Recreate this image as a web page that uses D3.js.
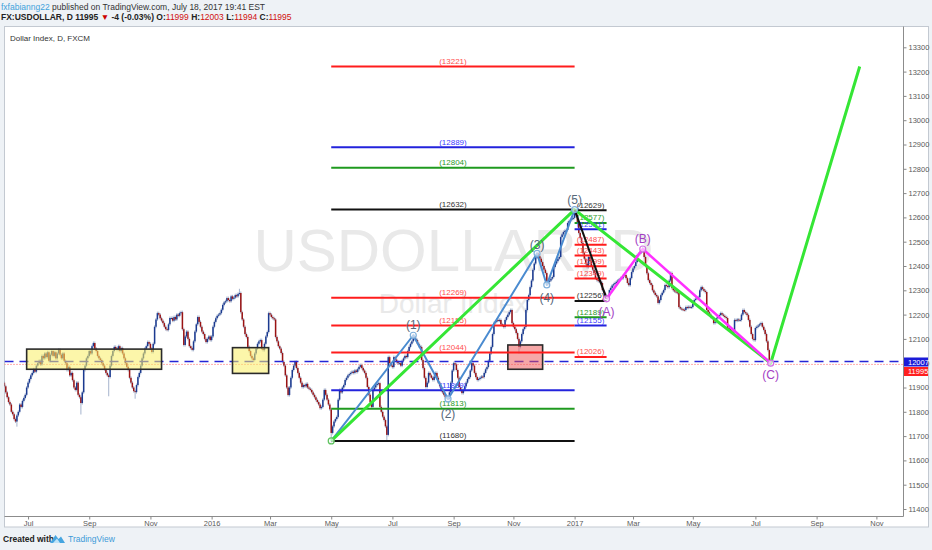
<!DOCTYPE html>
<html><head><meta charset="utf-8">
<script src="https://cdn.jsdelivr.net/npm/d3@7"></script>
<style>
html,body{margin:0;padding:0;background:#eef2f6;}
svg{display:block;font-family:"Liberation Sans",Arial,sans-serif;}
</style></head><body>
<svg id="chart" width="932" height="550"></svg>
<script>
// ---------------- DATA ----------------
const startDate = "2015-06-08";          // first bar (Monday); bars are consecutive weekdays
const firstOpen = 11920;
const closes = [
11905,11880,11860,11840,11830, 11800,11790,11770,11760,11785,
11800,11830,11820,11845,11857, 11870,11900,11920,11935,11950,
11960,11975,11965,11990,12000, 12010,11995,12030,12020,12040,
12025,12045,12010,12035,12050, 12030,12045,12020,12040,12055,
12035,12020,12040,12010,12000, 11972,11985,11950,11960,11930,
11900,11890,11920,11870,11860, 11836,11880,11972,11990,12020,
12030,12050,12040,12070,12083, 12060,12050,12030,12020,12013,
12000,11990,11975,11960,11950, 11943,11990,12030,12050,12067,
12060,12055,12070,12050,12062, 12040,12020,12000,11985,11972,
11940,11920,11900,11885,11881, 11910,11943,11960,11990,12020,
12040,12060,12070,12087,12080, 12060,12046,12080,12150,12180,
12206,12200,12185,12175,12165, 12150,12140,12137,12160,12186,
12186,12175,12190,12180,12200, 12195,12206,12210,12140,12075,
12110,12130,12100,12070,12062, 12055,12090,12130,12160,12190,
12170,12150,12130,12120,12100, 12087,12100,12110,12095,12110,
12150,12170,12185,12195,12200, 12206,12220,12240,12250,12255,
12268,12260,12255,12275,12265, 12270,12280,12275,12285,12289,
12210,12180,12150,12120,12108, 12067,12050,12030,12020,12013,
12040,12060,12080,12090,12095, 12060,12054,12080,12110,12128,
12206,12200,12190,12185,12180, 12108,12090,12070,12060,12042,
12005,11990,11950,11900,11869, 11900,11940,11972,11990,12005,
11980,11960,11940,11920,11902, 11910,11905,11915,11900,11895,
11890,11880,11870,11860,11849, 11840,11830,11815,11820,11850,
11890,11870,11850,11830,11810, 11713,11740,11760,11770,11779,
11850,11890,11880,11900,11910, 11931,11940,11950,11955,11960,
11965,11960,11970,11964,11975, 11985,11992,11980,11970,11960,
11940,11902,11870,11840,11820, 11890,11900,11910,11915,11918,
11820,11800,11780,11766,11740, 11705,12025,12000,11990,11984,
12025,12015,12005,12000,12000, 11990,12010,12020,12030,12025,
12050,12067,12080,12090,12112, 12100,12095,12080,12070,12067,
12013,11980,11940,11902,11920, 11960,11950,11940,11931,11945,
11960,11940,11920,11905,11890, 11880,11870,11860,11857,11853,
11880,11920,11970,12000,11995, 11972,11940,11902,11890,11877,
11890,11905,11920,11935,11943, 11970,12000,11990,11960,11943,
11931,11935,11940,11945,11943, 11960,11975,11984,12010,12040,
12067,12120,12165,12170,12178, 12175,12178,12160,12155,12149,
12178,12190,12200,12210,12219, 12165,12150,12140,12124,12100,
12067,12090,12120,12140,12149, 12219,12260,12280,12313,12340,
12384,12410,12435,12452,12440, 12430,12416,12400,12385,12371,
12325,12335,12340,12348,12355, 12396,12410,12420,12430,12437,
12519,12530,12540,12545,12548, 12577,12585,12590,12595,12598,
12622,12610,12577,12536,12515, 12495,12453,12430,12410,12396,
12437,12420,12400,12385,12371, 12350,12342,12338,12335,12330,
12301,12290,12280,12268,12275, 12301,12310,12320,12325,12330,
12335,12340,12345,12350,12350, 12360,12363,12350,12330,12321,
12350,12375,12390,12400,12416, 12445,12450,12455,12460,12470,
12437,12400,12370,12342,12330, 12322,12300,12290,12281,12275,
12248,12260,12280,12290,12301, 12322,12318,12313,12340,12371,
12309,12300,12295,12292,12289, 12231,12225,12222,12220,12219,
12231,12228,12232,12230,12231, 12245,12260,12265,12270,12272,
12300,12313,12305,12298,12293, 12219,12210,12200,12190,12186,
12165,12170,12185,12190,12198, 12206,12200,12195,12190,12186,
12145,12140,12135,12130,12128, 12178,12175,12180,12176,12178,
12200,12219,12210,12205,12198, 12178,12150,12120,12100,12095,
12145,12150,12155,12160,12165, 12150,12137,12120,12090,12054,
11999,11995
];
// wick extremes
const lowSpikes  = [["2015-06-19",11745],["2015-08-24",11795],["2015-09-21",11870],["2015-10-16",11860],
                    ["2016-05-02",11677],["2016-06-27",11690],["2016-11-07",12046],["2017-07-18",11994]];
const highSpikes = [["2016-01-29",12300],["2016-07-22",12115],["2017-01-02",12632],["2017-03-10",12475],["2017-07-18",12003]];

const yTicks = [11400,11500,11600,11700,11800,11900,12000,12100,12200,12300,12400,12500,12600,12700,12800,12900,13000,13100,13200,13300];
const xTickDates  = ["2015-07-01","2015-09-01","2015-11-02","2016-01-01","2016-03-01","2016-05-02","2016-07-01","2016-09-01","2016-11-01","2017-01-02","2017-03-01","2017-05-01","2017-07-03","2017-09-01","2017-11-01"];
const xTickLabels = ["Jul","Sep","Nov","2016","Mar","May","Jul","Sep","Nov","2017","Mar","May","Jul","Sep","Nov"];

// Elliott pivots
const pivotNames  = ["0","(1)","(2)","(3)","(4)","(5)","(A)","(B)","(C)","T"];
const pivotDates  = ["2016-05-02","2016-07-22","2016-08-26","2016-11-24","2016-12-05","2017-01-02","2017-02-02","2017-03-10","2017-07-18","2017-10-16"];
const pivotValues = [11680,12115,11853,12452,12322,12632,12265,12470,12000,13221];

// Fibonacci levels
const leftLevels  = [13221,12889,12804,12632,12269,12155,12044,11889,11813,11680];
const leftKinds   = ["red","blue","green","black","red","red","red","blue","green","black"];
const rightLevels = [12629,12577,12551,12487,12443,12399,12349,12256,12189,12155,12026];
const rightKinds  = ["black","green","blue","red","red","red","red","black","green","blue","red"];

// boxes: [startDate, endDate, top, bottom, kind]
const boxes = [["2015-06-30","2015-11-12",12058,11975,"yellow"],
               ["2016-01-22","2016-02-29",12064,11958,"yellow"],
               ["2016-10-26","2016-11-30",12075,11975,"pink"]];

const bidLine = 12007, lastPrice = 11995;

// ---------------- HELPERS ----------------
const parse = d3.utcParse("%Y-%m-%d");
const t0 = parse(startDate);
function bd(dateStr){
  const days = Math.round((parse(dateStr) - t0)/864e5);
  const w = Math.floor(days/7), r = days - w*7;
  return w*5 + Math.min(r,5);
}
const svg = d3.select("#chart");
const W = 932, H = 550;
const plot = {l:4.5, t:26.5, r:903.5, b:516.5};

const x = d3.scaleLinear().domain([0, closes.length-1]).range([4.4, 770.7]);
const y = d3.scaleLinear().domain([11400, 13300]).range([509, 47.3]);

// bars
const bars = closes.map((c,i)=>{
  const o = i===0 ? firstOpen : closes[i-1];
  return {i, o, c, h:Math.max(o,c), l:Math.min(o,c)};
});
lowSpikes.forEach(([d,v])=>{ const b=bars[bd(d)]; if(b) b.l=Math.min(b.l,v); });
highSpikes.forEach(([d,v])=>{ const b=bars[bd(d)]; if(b) b.h=Math.max(b.h,v); });

// ---------------- FRAME ----------------
svg.append("rect").attr("x",0).attr("y",0).attr("width",W).attr("height",H).attr("fill","#eef2f6");
svg.append("rect").attr("x",4.5).attr("y",26.5).attr("width",924).attr("height",500.5)
   .attr("fill","#fff").attr("stroke","#c3c9d1");

svg.append("defs").append("clipPath").attr("id","pc").append("rect")
   .attr("x",plot.l).attr("y",plot.t).attr("width",plot.r-plot.l).attr("height",plot.b-plot.t);

const g = svg.append("g").attr("clip-path","url(#pc)");

// watermark
g.append("text").attr("x",453.5).attr("y",271).attr("text-anchor","middle")
  .attr("font-size",60).attr("fill","#e9e9e9").text("USDOLLAR, D");
g.append("text").attr("x",453.5).attr("y",313).attr("text-anchor","middle")
  .attr("font-size",28).attr("fill","#e9e9e9").text("Dollar Index");

// price lines
g.append("line").attr("x1",plot.l).attr("x2",plot.r).attr("y1",y(lastPrice)).attr("y2",y(lastPrice))
  .attr("stroke","#ff5c5c").attr("stroke-width",1).attr("stroke-dasharray","1,2");

// candles
const cg = g.append("g");
cg.selectAll("line.w").data(bars).join("line").attr("class","w")
  .attr("x1",d=>x(d.i)).attr("x2",d=>x(d.i)).attr("y1",d=>y(d.h)-1.5).attr("y2",d=>y(d.l)+1.5)
  .attr("stroke","#8ea0c0").attr("stroke-width",0.8);
cg.selectAll("rect").data(bars).join("rect")
  .attr("x",d=>x(d.i)-0.75).attr("width",1.5)
  .attr("y",d=>y(Math.max(d.o,d.c))).attr("height",d=>Math.max(1,Math.abs(y(d.o)-y(d.c))))
  .attr("fill",d=>d.c>=d.o?"#1b3a90":"#9a1313");

g.append("line").attr("x1",plot.l).attr("x2",plot.r).attr("y1",y(bidLine)).attr("y2",y(bidLine))
  .attr("stroke","#2626d6").attr("stroke-width",1.6).attr("stroke-dasharray","9,6");

// boxes
const boxStyle = {yellow:{fill:"rgba(250,238,100,0.55)"}, pink:{fill:"rgba(238,80,80,0.5)"}};
boxes.forEach(([d1,d2,top,bot,k])=>{
  g.append("rect").attr("x",x(bd(d1))).attr("y",y(top))
   .attr("width",x(bd(d2))-x(bd(d1))).attr("height",y(bot)-y(top))
   .attr("fill",boxStyle[k].fill).attr("stroke","#2a2a2a").attr("stroke-width",1.6);
});

// fib levels
const lineCol  = {red:"#ff1c1c", blue:"#2323dc", green:"#1f9a1f", black:"#111"};
const labelCol = {red:"#ff5050", blue:"#4040ff", green:"#2a9a2a", black:"#333"};
function drawLevels(levels, kinds, d1, d2){
  const x1 = x(bd(d1)), x2 = x(bd(d2)), xm = (x1+x2)/2;
  levels.forEach((v,i)=>{
    g.append("line").attr("x1",x1).attr("x2",x2).attr("y1",y(v)).attr("y2",y(v))
     .attr("stroke",lineCol[kinds[i]]).attr("stroke-width",2);
    g.append("text").attr("x",xm).attr("y",y(v)-2.5).attr("text-anchor","middle")
     .attr("font-size",8).attr("fill",labelCol[kinds[i]]).text("("+v+")");
  });
}
drawLevels(leftLevels, leftKinds, pivotDates[0], pivotDates[5]);
drawLevels(rightLevels, rightKinds, pivotDates[5], pivotDates[6]);

// wave lines
const P = pivotDates.map((d,i)=>[x(bd(d)), y(pivotValues[i])]);
const line = d3.line();
function path(idx, col, w){
  g.append("path").attr("d",line(idx.map(i=>P[i]))).attr("fill","none")
   .attr("stroke",col).attr("stroke-width",w).attr("stroke-linejoin","round");
}
path([0,1,2,3,4,5],"#4a8bd0",2);
path([0,5,8,9],"#35e635",3);
path([5,6],"#111",2);
path([6,7,8],"#ff30ff",2.5);

// pivot circles and labels
const labelOff = [0,-10,15,-9,13,-10,13,-10,12];
for(let i=0;i<9;i++){
  const isABC = i>=6;
  g.append("circle").attr("cx",P[i][0]).attr("cy",P[i][1]).attr("r",3)
   .attr("fill","#fff").attr("fill-opacity",0.6)
   .attr("stroke",isABC?"#d46ee6":(i===0?"#5fc35f":"#7fb0dc")).attr("stroke-width",1.2);
  if(i>0){
    g.append("text").attr("x",P[i][0]).attr("y",P[i][1]+labelOff[i]).attr("dy","0.35em")
     .attr("text-anchor","middle").attr("font-size",12)
     .attr("fill",isABC?"#a43ec4":"#56687a").text(pivotNames[i]);
  }
}

// ---------------- AXES ----------------
svg.append("line").attr("x1",plot.r).attr("x2",plot.r).attr("y1",26.5).attr("y2",plot.b).attr("stroke","#8c8c8c");
svg.append("line").attr("x1",4.5).attr("x2",plot.r).attr("y1",plot.b).attr("y2",plot.b).attr("stroke","#8c8c8c");

const ya = svg.append("g").attr("transform",`translate(${plot.r},0)`)
  .call(d3.axisRight(y).tickValues(yTicks).tickSize(3).tickPadding(2).tickFormat(d3.format("d")));
ya.select(".domain").remove();
ya.selectAll("line").attr("stroke","#888");
ya.selectAll("text").attr("font-size",7.5).attr("fill","#5a5a5a").attr("font-family","Liberation Sans, Arial, sans-serif");

const xa = svg.append("g").attr("transform",`translate(0,${plot.b})`)
  .call(d3.axisBottom(x).tickValues(xTickDates.map(bd)).tickSize(3).tickPadding(1)
        .tickFormat((d,i)=>xTickLabels[i]));
xa.select(".domain").remove();
xa.selectAll("line").attr("stroke","#888");
xa.selectAll("text").attr("font-size",7.5).attr("fill","#5a5a5a").attr("font-family","Liberation Sans, Arial, sans-serif");

// price tags
function tag(yc, col, txt){
  svg.append("rect").attr("x",904).attr("y",yc-4.5).attr("width",24).attr("height",9).attr("fill",col);
  svg.append("text").attr("x",908).attr("y",yc).attr("dy","0.35em").attr("font-size",7.5)
     .attr("fill","#fff").text(txt);
}
tag(y(bidLine)+0.5, "#1b1bd8", String(bidLine));
tag(y(bidLine)+10, "#ff1f1f", String(lastPrice));

// ---------------- HEADER / FOOTER ----------------
const h1 = svg.append("text").attr("x",1).attr("y",9.5).attr("font-size",8.5).attr("fill","#333");
h1.append("tspan").attr("fill","#3fa3dc").text("fxfabianng22");
h1.append("tspan").text(" published on TradingView.com, July 18, 2017 19:41 EST");

const h2 = svg.append("text").attr("x",1).attr("y",20).attr("font-size",8.5).attr("fill","#222").attr("font-weight","bold");
[["FX:USDOLLAR, D  11995 ","#222"],["▼","#c00"],[" -4 (-0.03%) O:","#222"],["11999","#d01010"],
 [" H:","#222"],["12003","#d01010"],[" L:","#222"],["11994","#d01010"],[" C:","#222"],["11995","#d01010"]]
 .forEach(([t,c])=>h2.append("tspan").attr("fill",c).attr("font-weight",c==="#222"?"bold":"normal").text(t));

svg.append("text").attr("x",10).attr("y",41).attr("font-size",8).attr("fill","#333").text("Dollar Index, D, FXCM");

svg.append("text").attr("x",3).attr("y",542).attr("font-size",8.5).attr("fill","#222").attr("font-weight","bold").text("Created with");
svg.append("path").attr("d","M50,543 L55.5,535 L58.5,539 L61,536.5 L65,543 Z").attr("fill","#46a5e0");
svg.append("path").attr("d","M53,543 L57,538.5 L60,543 Z").attr("fill","#bfe3f7");
svg.append("text").attr("x",68).attr("y",542).attr("font-size",8.5).attr("fill","#3d9ad8").text("TradingView");
</script>
</body></html>
